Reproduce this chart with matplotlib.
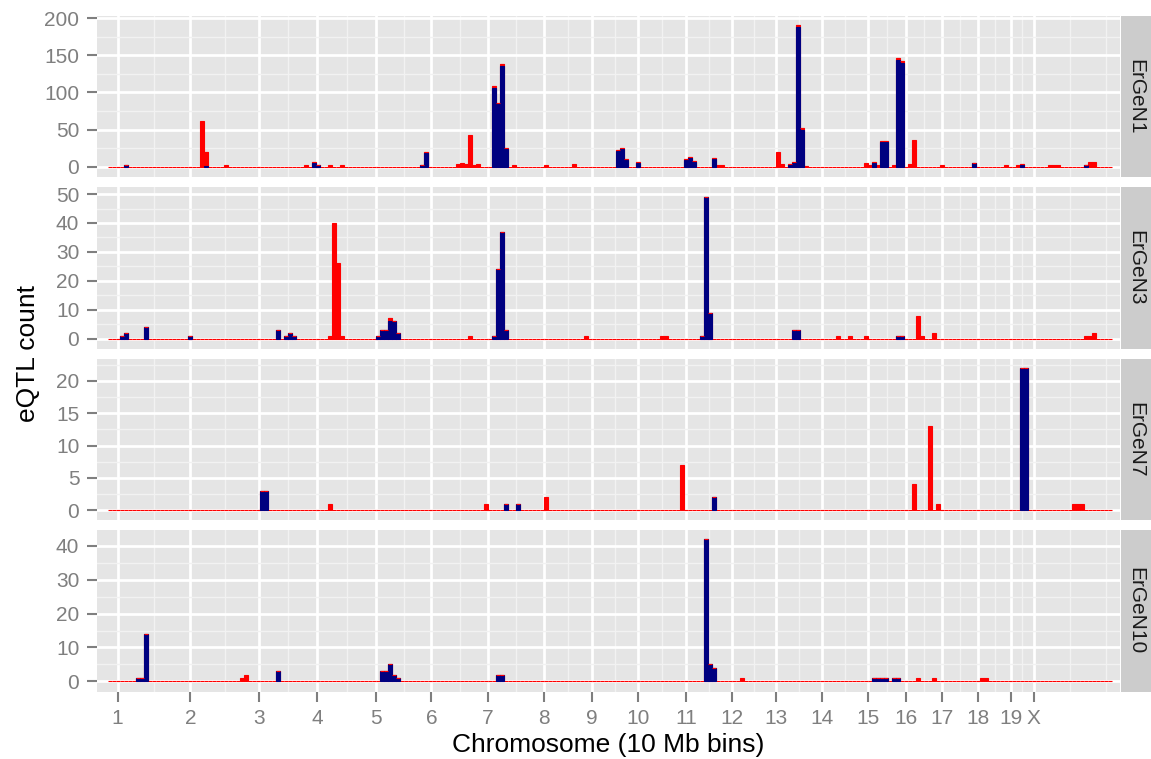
import numpy as np
import matplotlib
matplotlib.use("Agg")
import matplotlib.pyplot as plt

plt.rcParams['font.family'] = ['Liberation Sans', 'DejaVu Sans']

# genome split in 10 Mb bins (bin index along the x axis)
n_bins = 251
chrom_labels = ['1', '2', '3', '4', '5', '6', '7', '8', '9', '10',
                '11', '12', '13', '14', '15', '16', '17', '18', '19', 'X']
chrom_ticks = [2.4, 20.6, 37.65, 52.35, 67.0, 80.85, 94.9, 108.9, 121.05, 132.6,
               144.6, 155.9, 167.1, 178.4, 189.95, 199.4, 208.45, 217.5, 225.75, 231.4]

panels = ['ErGeN1', 'ErGeN3', 'ErGeN7', 'ErGeN10']

# non-empty bins: cis (navy) and trans (red) eQTL counts
ergen1_bins = [4, 23, 24, 29, 49, 51, 52, 55, 58, 78, 79, 87, 88, 89, 90, 91, 92,
               96, 97, 98, 99, 101, 109, 116, 127, 128, 129, 132, 144, 145, 146,
               151, 152, 153, 167, 168, 170, 171, 172, 173, 174, 189, 190, 191, 192,
               193, 194, 196, 197, 198, 200, 201, 208, 216, 224, 227, 228, 235, 236,
               237, 244, 245, 246]
ergen1_cis = [2, 0, 1, 0, 0, 5, 2, 0, 0, 2, 19, 0, 0, 0, 0, 0, 0,
              106, 85, 136, 24, 0, 0, 0, 22, 24, 10, 6, 10, 12, 7,
              11, 0, 0, 0, 0, 3, 5, 188, 50, 0, 0, 0, 5, 0,
              34, 34, 0, 144, 140, 0, 0, 0, 5, 0, 0, 3, 0, 0,
              0, 2, 0, 0]
ergen1_trans = [1, 62, 19, 2, 2, 2, 1, 2, 3, 1, 1, 4, 5, 4, 43, 3, 4,
                3, 1, 2, 2, 2, 3, 4, 1, 2, 1, 1, 1, 1, 1,
                1, 2, 2, 20, 4, 1, 2, 3, 2, 1, 5, 2, 2, 2,
                1, 1, 2, 2, 2, 4, 36, 2, 1, 2, 2, 1, 2, 2,
                2, 1, 7, 7]

ergen3_bins = [3, 4, 9, 20, 42, 44, 45, 46, 55, 56, 57, 58, 67, 68, 69, 70, 71, 72,
               90, 96, 97, 98, 99, 119, 138, 139, 148, 149, 150, 171, 172, 182, 185,
               189, 197, 198, 202, 203, 206, 244, 245, 246]
ergen3_cis = [1, 2, 4, 1, 3, 1, 2, 1, 0, 0, 0, 0, 1, 3, 3, 6, 6, 2,
              0, 1, 24, 37, 3, 0, 0, 0, 1, 49, 9, 3, 3, 0, 0,
              0, 1, 1, 0, 0, 0, 0, 0, 0]
ergen3_trans = [0, 0, 0, 0, 0, 0, 0, 0, 1, 40, 26, 1, 0, 0, 0, 1, 0, 0,
                1, 0, 0, 0, 0, 1, 1, 1, 0, 0, 0, 0, 0, 1, 1,
                1, 0, 0, 8, 1, 2, 1, 1, 2]

ergen7_bins = [38, 39, 55, 94, 99, 102, 109, 143, 151, 201, 205, 207, 228, 229,
               241, 242, 243]
ergen7_cis = [3, 3, 0, 0, 1, 1, 0, 0, 2, 0, 0, 0, 22, 22, 0, 0, 0]
ergen7_trans = [0, 0, 1, 1, 0, 0, 2, 7, 0, 4, 13, 1, 0, 0, 1, 1, 1]

ergen10_bins = [7, 8, 9, 33, 34, 42, 68, 69, 70, 71, 72, 97, 98, 149, 150, 151,
                158, 191, 192, 193, 194, 196, 197, 202, 206, 218, 219]
ergen10_cis = [1, 1, 14, 0, 0, 3, 3, 3, 5, 2, 1, 2, 2, 42, 5, 4,
               0, 1, 1, 1, 1, 1, 1, 0, 0, 0, 0]
ergen10_trans = [0, 0, 0, 1, 2, 0, 0, 0, 0, 0, 0, 0, 0, 0, 0, 0,
                 1, 0, 0, 0, 0, 0, 0, 1, 1, 1, 1]

y_breaks = [[0, 50, 100, 150, 200],
            [0, 10, 20, 30, 40, 50],
            [0, 5, 10, 15, 20],
            [0, 10, 20, 30, 40]]
y_limits = [(-14.0, 202.7), (-3.5, 52.3), (-1.53, 23.43), (-3.04, 44.67)]

data = [(ergen1_bins, ergen1_cis, ergen1_trans),
        (ergen3_bins, ergen3_cis, ergen3_trans),
        (ergen7_bins, ergen7_cis, ergen7_trans),
        (ergen10_bins, ergen10_cis, ergen10_trans)]

W, H = 1151, 759
fig = plt.figure(figsize=(W / 100, H / 100), dpi=100)


def box(left, top, right, bottom):
    return [left / W, 1 - bottom / H, (right - left) / W, (bottom - top) / H]


def minor_of(breaks, step):
    b = list(breaks)
    b = [b[0] - step] + b + [b[-1] + step]
    return [(a + c) / 2 for a, c in zip(b[:-1], b[1:])]


x_ext = chrom_ticks + [chrom_ticks[-1] + (chrom_ticks[1] - chrom_ticks[0])]
x_minor = [(a + c) / 2 for a, c in zip(x_ext[:-1], x_ext[1:])] + [x_ext[-1]]

grey50 = '#7F7F7F'
top0, ph, gap = 16, 161.4, 10
x = np.arange(n_bins)

for i, name in enumerate(panels):
    top = top0 + i * (ph + gap)
    ax = fig.add_axes(box(97, top, 1120, top + ph))
    ax.set_facecolor('#E5E5E5')
    for s in ax.spines.values():
        s.set_visible(False)

    bins, cis, trans = data[i]
    cis_arr = np.zeros(n_bins)
    tot_arr = np.zeros(n_bins)
    cis_arr[bins] = cis
    tot_arr[bins] = np.array(cis) + np.array(trans)
    has_cis = cis_arr > 0

    # all bins, outlined in red (zero bins give the baseline)
    ax.bar(x, tot_arr, width=1, align='edge', color='red', edgecolor='red',
           linewidth=0.8, zorder=2)
    # cis part stacked at the bottom
    ax.bar(x[has_cis], cis_arr[has_cis], width=1, align='edge', color='navy',
           edgecolor='navy', linewidth=0.8, zorder=3)
    # red outline on top of every non-empty bin
    ax.hlines(tot_arr[has_cis], x[has_cis], x[has_cis] + 1, color='red',
              linewidth=0.8, zorder=4)

    yb = y_breaks[i]
    ax.set_yticks(yb)
    ax.set_yticks(minor_of(yb, yb[1] - yb[0]), minor=True)
    ax.set_ylim(*y_limits[i])
    ax.set_xticks(chrom_ticks)
    ax.set_xticks(x_minor, minor=True)
    ax.set_xlim(-2.75, 253.0)

    ax.grid(which='major', color='white', linewidth=1.95)
    ax.grid(which='minor', color='#F2F2F2', linewidth=0.95)
    ax.set_axisbelow(True)

    ax.tick_params(which='minor', length=0)
    ax.tick_params(axis='y', which='major', length=7.2, width=1.5, color=grey50,
                   labelcolor=grey50, labelsize=15, pad=5.5)
    if i == len(panels) - 1:
        ax.set_xticklabels(chrom_labels)
        ax.tick_params(axis='x', which='major', length=7.2, width=1.5, color=grey50,
                       labelcolor=grey50, labelsize=15, pad=5.5)
    else:
        ax.tick_params(axis='x', which='major', length=0, labelbottom=False)

    sax = fig.add_axes(box(1121, top, 1151, top + ph))
    sax.set_facecolor('#CCCCCC')
    sax.set_xticks([])
    sax.set_yticks([])
    for s in sax.spines.values():
        s.set_visible(False)
    sax.text(0.5, 0.5, name, rotation=-90, ha='center', va='center',
             fontsize=15, color='#1A1A1A', transform=sax.transAxes)

fig.text(28 / W, 1 - 353.8 / H, 'eQTL count', rotation=90, ha='center',
         va='center', fontsize=19)
fig.text(608.5 / W, 1 - 745 / H, 'Chromosome (10 Mb bins)', ha='center',
         va='center', fontsize=19)

fig.savefig('out.png', dpi=100)
